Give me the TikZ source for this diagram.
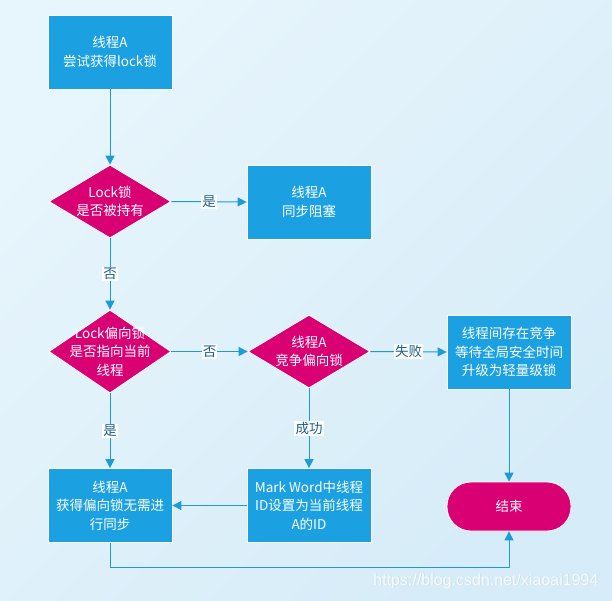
\documentclass[tikz,border=0pt]{standalone}
\usepackage{fontspec}
\setmainfont{Noto Sans CJK SC}
\newfontfamily\markfont{Liberation Sans}
\usetikzlibrary{arrows.meta,shapes.geometric}
\definecolor{boxblue}{HTML}{1BA1E2}
\definecolor{choicered}{HTML}{D80073}
\definecolor{linkblue}{HTML}{1E9AD6}
\definecolor{answerblue}{HTML}{1B5F8C}
\definecolor{bglight}{HTML}{E7F5FC}
\definecolor{bgdark}{HTML}{D6ECF8}

\tikzset{
	stepbox/.style={rectangle, draw=white, line width=0.8pt, fill=boxblue, text=white, align=center, minimum width=124pt, minimum height=74pt, inner sep=0pt, font=\fontsize{13.5}{18.5}\selectfont},
	choice/.style={diamond, draw=white, line width=0.8pt, fill=choicered, minimum width=122pt, minimum height=#1, inner sep=0pt},
	choice/.default=73pt,
	choicetext/.style={text=white, align=center, inner sep=0pt, font=\fontsize{13.5}{18.5}\selectfont},
	endbox/.style={rectangle, rounded corners=24pt, draw=white, line width=0.8pt, fill=choicered, text=white, minimum width=124pt, minimum height=49pt, inner sep=0pt, font=\fontsize{13.5}{18.5}\selectfont},
	link/.style={draw=linkblue, line width=1pt, -{Triangle[length=9pt,width=9pt]}},
	answer/.style={fill=white, text=answerblue, inner sep=1.2pt, font=\fontsize{13.5}{16}\selectfont},
}

\begin{document}
\begin{tikzpicture}[x=1pt, y=-1pt]
				\shade[shading=axis, top color=bglight, bottom color=bgdark, shading angle=45] (0, 0) rectangle (612, 600);
				\useasboundingbox (0, 0) rectangle (612, 600);
				
				\node[stepbox] (start) at (110, 52) {线程A\\尝试获得lock锁};
				
				\node[choice] (held) at (110, 201.5) {};
				\node[choicetext] at (held) {Lock锁\\是否被持有};
				
				\node[stepbox] (block) at (309, 202) {线程A\\同步阻塞};
				
				\node[choice=83pt] (owner) at (110, 351.5) {};
				\node[choicetext] at (owner) {Lock偏向锁\\是否指向当前\\线程};
				
				\node[choice] (race) at (309, 351.5) {};
				\node[choicetext] at (race) {线程A\\竞争偏向锁};
				
				\node[stepbox] (upgrade) at (509, 352) {线程间存在竞争\\等待全局安全时间\\升级为轻量级锁};
				
				\node[stepbox] (biased) at (110, 505.5) {线程A\\获得偏向锁无需进\\行同步};
				
				\node[stepbox] (markword) at (309, 505.5) {Mark Word中线程\\ID设置为当前线程\\A的ID};
				
				\node[endbox] (finish) at (509, 506.5) {结束};
				
				\draw[link] (start.south) -- (held.north);
				\draw[link] (held.east) -- node[answer] {是} (block.west);
				\draw[link] (held.south) -- node[answer] {否} (owner.north);
				\draw[link] (owner.east) -- node[answer] {否} (race.west);
				\draw[link] (race.east) -- node[answer] {失败} (upgrade.west);
				\draw[link] (owner.south) -- node[answer] {是} (biased.north);
				\draw[link] (race.south) -- node[answer] {成功} (markword.north);
				\draw[link] (markword.west) -- (biased.east);
				\draw[link] (upgrade.south) -- (finish.north);
				\draw[link] (biased.south) -- ++(0, 25) -| (finish.south);
				
				\node[anchor=east, text=black!30, opacity=0.3, font=\markfont\fontsize{16}{16}\selectfont] at (602.8, 581.8) {https://blog.csdn.net/xiaoai1994};
				\node[anchor=east, text=white, opacity=0.85, font=\markfont\fontsize{16}{16}\selectfont] (mark) at (602, 581) {https://blog.csdn.net/xiaoai1994};
			\end{tikzpicture}
\end{document}
